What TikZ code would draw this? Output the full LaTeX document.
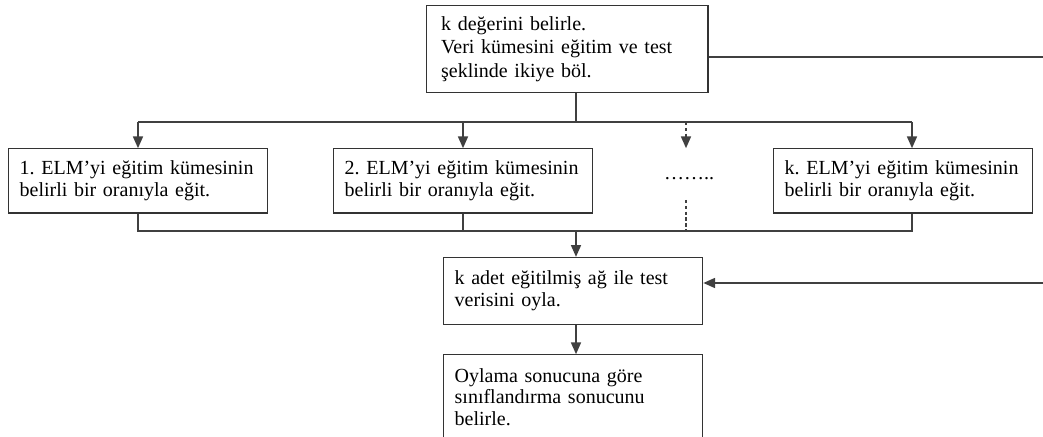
\documentclass[tikz,border=0pt]{standalone}
\usepackage{fontspec}
\setmainfont{Liberation Serif}
\usetikzlibrary{arrows.meta}
\frenchspacing

\begin{document}
\begin{tikzpicture}[x=0.6pt, y=-0.6pt,
  every node/.style={font=\fontsize{12}{13}\selectfont},
  stepbox/.style={draw=black!80, line width=0.8pt, align=left, inner xsep=6.8pt, inner ysep=0pt, text width=142pt, minimum height=38.6pt},
  link/.style={draw=black!75, line width=0.8pt},
  flowtip/.style={-{Triangle[length=7pt,width=6pt]}},
  gapline/.style={dash pattern=on 2pt off 1.5pt}]
\useasboundingbox (0,0) rectangle (1043,437);
\clip (0,0) rectangle (1043,437);

% boxes
\node[stepbox, inner xsep=9pt, text width=151pt, minimum height=52pt, font=\fontsize{12}{14.1}\selectfont] (split) at (567,49) {k değerini belirle.\\ Veri kümesini eğitim ve test\\ şeklinde ikiye böl.};
\node[stepbox] (elm1) at (138,181) {1. ELM’yi eğitim kümesinin\\ belirli bir oranıyla eğit.};
\node[stepbox] (elm2) at (463,181) {2. ELM’yi eğitim kümesinin\\ belirli bir oranıyla eğit.};
\node[anchor=base] (dots) at (689,180) {……..};
\node[stepbox] (elmk) at (903,181) {k. ELM’yi eğitim kümesinin\\ belirli bir oranıyla eğit.};
\node[stepbox, minimum height=40.2pt] (vote) at (573,291) {k adet eğitilmiş ağ ile test\\ verisini oyla.};
\node[stepbox, minimum height=50.6pt] (result) at (573,397) {Oylama sonucuna göre\\ sınıflandırma sonucunu\\ belirle.};

% bus points
\coordinate (fork) at (576,122);
\coordinate (forkR) at (912,122);
\coordinate (gap) at (686,122);
\coordinate (gapend) at (686,200);
\coordinate (join) at (576,231);
\coordinate (joinR) at (912,231);
\coordinate (back) at (1043,57);
\coordinate (return) at (1043,283);

% split into k trainings
\draw[link] (split.south -| fork) -- (fork);
\draw[link] (elm1.north |- fork) -- (forkR);
\draw[link, flowtip] (elm1.north |- fork) -- (elm1.north);
\draw[link, flowtip] (elm2.north |- fork) -- (elm2.north);
\draw[link, flowtip, gapline] (gap) -- (gap |- elm1.north);
\draw[link, flowtip] (forkR) -- (forkR |- elmk.north);

% collect and vote
\draw[link] (elm1.south) -- (elm1.south |- join) -- (joinR) -- (joinR |- elmk.south);
\draw[link] (elm2.south) -- (elm2.south |- join);
\draw[link, gapline] (gapend) -- (gapend |- join);
\draw[link, flowtip] (join) -- (join |- vote.north);
\draw[link, flowtip] (vote.south -| join) -- (result.north -| join);

% test data path
\draw[link] (split.east |- back) -- (back);
\draw[link, flowtip] (return) -- (vote.east |- return);
\end{tikzpicture}
\end{document}
